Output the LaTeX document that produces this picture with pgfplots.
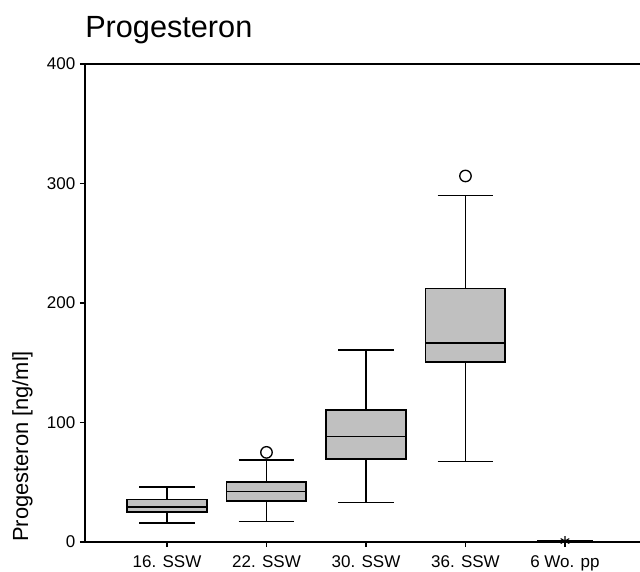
\documentclass[border=0pt]{standalone}
\usepackage{fontspec}
\setmainfont{Liberation Sans}
\usepackage{pgfplots}
\pgfplotsset{compat=1.18}
\definecolor{boxgray}{HTML}{C0C0C0}

% box i: whisker low, Q1, median, Q3, whisker high (ng/ml)
% 16. SSW: 15.9 25.1 29.3 35.7 46.0
% 22. SSW: 17.3 34.3 42.4 50.2 68.6  (outlier 75)
% 30. SSW: 32.9 69.7 88.4 110.7 160.7
% 36. SSW: 67.2 150.4 166.3 212.3 289.8 (outlier 306.3)
% 6 Wo. pp: all about 1 (extreme 0.8)

\begin{document}
\begin{tikzpicture}
\begin{axis}[
    scale only axis,
    width=416.25pt, height=358.5pt,
    xmin=0.176, xmax=5.754,
    ymin=0, ymax=400,
    axis lines=left,
    axis line style={-, line width=1.2pt},
    tick align=outside,
    major tick length=3.75pt,
    tick style={black, line width=0.9pt},
    xtick={1,2,3,4,5},
    xticklabels={16. SSW, 22. SSW, 30. SSW, 36. SSW, 6 Wo. pp},
    ytick={0,100,200,300,400},
    /pgf/number format/assume math mode=true,
    tick label style={font=\fontsize{12.75}{15}\selectfont},
    xticklabel style={yshift=-3pt},
    ylabel={Progesteron [ng/ml]},
    ylabel style={at={(axis description cs:-0.0937,0)}, anchor=south west,
        font=\fontsize{16.4}{19}\selectfont, inner sep=0pt},
    title={Progesteron},
    title style={at={(axis description cs:0,1)}, anchor=base west, yshift=14.25pt,
        font=\fontsize{23}{27}\selectfont, inner sep=0pt},
    clip=false,
    unbounded coords=jump,
  ]
  % boxes
  \addplot[draw=black, fill=boxgray, line width=1.2pt] coordinates {(0.6,25.1) (1.4,25.1) (1.4,35.7) (0.6,35.7)} -- cycle;
  \addplot[draw=black, fill=boxgray, line width=1.2pt] coordinates {(1.6,34.3) (2.4,34.3) (2.4,50.2) (1.6,50.2)} -- cycle;
  \addplot[draw=black, fill=boxgray, line width=1.2pt] coordinates {(2.6,69.7) (3.4,69.7) (3.4,110.7) (2.6,110.7)} -- cycle;
  \addplot[draw=black, fill=boxgray, line width=1.2pt] coordinates {(3.6,150.4) (4.4,150.4) (4.4,212.3) (3.6,212.3)} -- cycle;
  % medians, whiskers, caps
  \addplot[black, line width=1.2pt] coordinates {
    (0.6,29.3) (1.4,29.3) (1,nan)
    (1,25.1) (1,15.9) (1,nan) (0.72,15.9) (1.28,15.9) (1,nan)
    (1,35.7) (1,46.0) (1,nan) (0.72,46.0) (1.28,46.0) (1,nan)
    (1.6,42.4) (2.4,42.4) (2,nan)
    (2,34.3) (2,17.3) (2,nan) (1.72,17.3) (2.28,17.3) (2,nan)
    (2,50.2) (2,68.6) (2,nan) (1.72,68.6) (2.28,68.6) (2,nan)
    (2.6,88.4) (3.4,88.4) (3,nan)
    (3,69.7) (3,32.9) (3,nan) (2.72,32.9) (3.28,32.9) (3,nan)
    (3,110.7) (3,160.7) (3,nan) (2.72,160.7) (3.28,160.7) (3,nan)
    (3.6,166.3) (4.4,166.3) (4,nan)
    (4,150.4) (4,67.2) (4,nan) (3.72,67.2) (4.28,67.2) (4,nan)
    (4,212.3) (4,289.8) (4,nan) (3.72,289.8) (4.28,289.8) (4,nan)
    (4.72,1.4) (5.28,1.4)
  };
  % outliers
  \addplot[only marks, mark=o, mark size=4.3pt, mark options={black, fill=white, line width=1pt}]
    coordinates {(2,75) (4,306.3)};
  % extreme value
  \addplot[only marks, mark=asterisk, mark size=3.7pt, mark options={black, line width=0.8pt}]
    coordinates {(5,0.8)};
  \draw[line width=1.2pt] (axis description cs:0,1) -- (axis description cs:1,1);
\end{axis}
\pgfresetboundingbox
\path[use as bounding box] (-63.75pt,-22.5pt) rectangle (416.25pt,406.5pt);
\end{tikzpicture}
\end{document}
